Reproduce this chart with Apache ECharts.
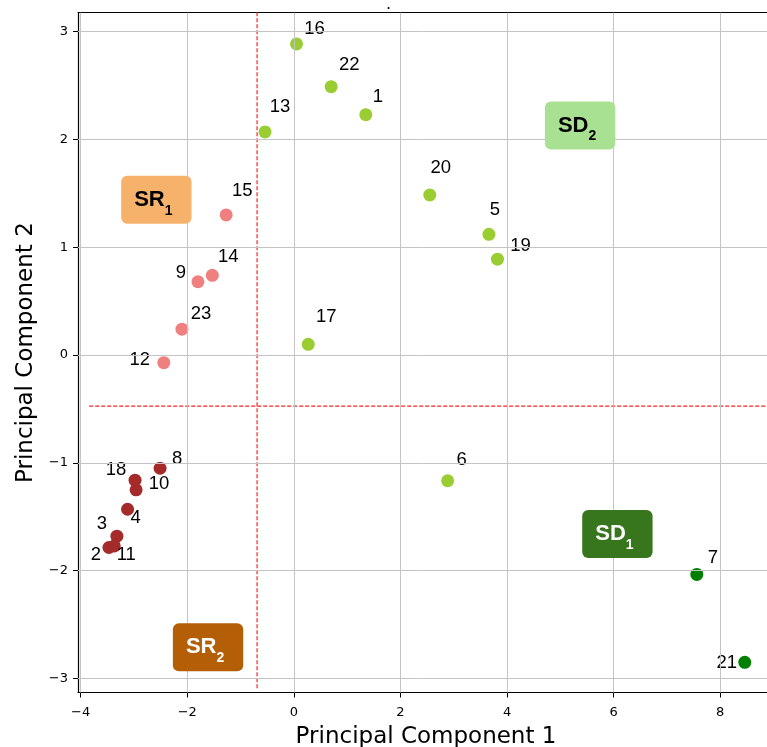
<!DOCTYPE html>
<html><head><meta charset="utf-8">
<script src="https://cdn.jsdelivr.net/npm/echarts@6/dist/echarts.min.js"></script>
<style>html,body{margin:0;padding:0;background:#fff}#c{width:767px;height:747px}</style>
</head><body><div id="c"></div>
<script>
// ---- data ----
const sampleIds = ['1','2','3','4','5','6','7','8','9','10','11','12','13','14','15','16','17','18','19','20','21','22','23'];
const pc1 = [1.35,-3.47,-3.32,-3.12,3.66,2.885,7.56,-2.51,-1.80,-2.96,-3.37,-2.44,-0.54,-1.53,-1.27,0.05,0.27,-2.98,3.82,2.55,8.46,0.70,-2.10];
const pc2 = [2.23,-1.785,-1.68,-1.43,1.12,-1.166,-2.035,-1.05,0.68,-1.25,-1.77,-0.07,2.07,0.74,1.30,2.886,0.10,-1.16,0.89,1.485,-2.85,2.49,0.24];
const sampleGroup = ['SD2','SR2','SR2','SR2','SD2','SD2','SD1','SR2','SR1','SR2','SR2','SR1','SD2','SR1','SR1','SD2','SD2','SR2','SD2','SD2','SD1','SD2','SR1'];
const groupOrder = ['SD2','SR1','SR2','SD1'];

const regionMain = ['SR','SD','SD','SR'];
const regionSub = ['1','2','1','2'];
const regionX = [-2.58, 5.37, 6.07, -1.61];
const regionY = [1.44, 2.13, -1.66, -2.71];

const cutX = -0.69, cutXSpan = [-3.09, 3.18];
const cutY = -0.473, cutYSpan = [-3.84, 9.0];

const xTicks = [-4,-2,0,2,4,6,8];
const yTicks = [-3,-2,-1,0,1,2,3];
const xRange = [-4.05, 8.877];
const yRange = [-3.13, 3.176];

// ---- styles (not data) ----
const groupColor = {SD2:'#9acd32', SR1:'#f08080', SR2:'#a52a2a', SD1:'#008000'};
const regionStyle = [
  {bg:'#f6b26b', fg:'#000'},
  {bg:'#a9e192', fg:'#000'},
  {bg:'#38761d', fg:'#fff'},
  {bg:'#b45f06', fg:'#fff'}
];
const labelOffsets = {
  '1':[12,-18],'2':[-13,7],'3':[-15,-12],'4':[8,9],'5':[6,-24],'6':[14,-21],'7':[16,-17],
  '8':[17,-9],'9':[-17,-9],'10':[23,-6],'11':[12,9],'12':[-24,-3],'13':[15,-25],'14':[16,-18],
  '15':[16,-24],'16':[18,-15],'17':[18,-27],'18':[-19,-10],'19':[23,-13],'20':[11,-27],
  '21':[-18,1],'22':[18,-22],'23':[19,-15]
};

const minus = v => String(v).replace('-', '\u2212');
const tickFont = {fontFamily:'DejaVu Sans', fontSize:13, color:'#000'};

const series = [];
// grid lines
series.push({
  type:'line', data:[], silent:true,
  markLine:{silent:true, symbol:'none', animation:false,
    label:{show:false},
    lineStyle:{color:'#c4c4c4', width:1, type:'solid'},
    data: xTicks.map(v=>({xAxis:v})).concat(yTicks.map(v=>({yAxis:v})))
  }
});
// cut lines
series.push({type:'line', data:[[cutX,cutXSpan[0]],[cutX,cutXSpan[1]]], symbol:'none', silent:true,
  lineStyle:{color:'#ff2020', width:1.2, type:[4,2]}, z:3});
series.push({type:'line', data:[[cutYSpan[0],cutY],[cutYSpan[1],cutY]], symbol:'none', silent:true,
  lineStyle:{color:'#ff2020', width:1.2, type:[4,2]}, z:3});

groupOrder.forEach(g=>{
  const d = [];
  sampleIds.forEach((id,i)=>{
    if (sampleGroup[i]!==g) return;
    d.push({value:[pc1[i], pc2[i]], name:id, label:{offset: labelOffsets[id]}});
  });
  series.push({
    type:'scatter', name:g, data:d, symbolSize:13, z:4,
    itemStyle:{color:groupColor[g], opacity:1},
    label:{show:true, position:'inside', formatter:p=>p.name,
      fontFamily:'Liberation Sans, Arial', fontSize:18.5, color:'#000'}
  });
});

// region tags
series.push({
  type:'scatter', symbol:'rect', symbolSize:1, z:5, silent:true,
  itemStyle:{color:'rgba(0,0,0,0)'},
  data: regionMain.map((m,i)=>({
    value:[regionX[i], regionY[i]], name:m, sub:regionSub[i],
    label:{
      backgroundColor: regionStyle[i].bg, color: regionStyle[i].fg,
      rich:{
        a:{fontFamily:'Liberation Sans', fontWeight:'bold', fontSize:22, lineHeight:36, verticalAlign:'middle', color:regionStyle[i].fg},
        s:{fontFamily:'Liberation Sans', fontWeight:'bold', fontSize:14, lineHeight:9, verticalAlign:'bottom', color:regionStyle[i].fg}
      }
    }
  })),
  label:{show:true, position:'inside', padding:[6,19,6,13], borderRadius:6, opacity:1,
    formatter: p => '{a|' + p.name + '}{s|' + p.data.sub + '}'}
});

const chart = echarts.init(document.getElementById('c'), null, {renderer:'canvas'});
chart.setOption({
  animation:false,
  backgroundColor:'#fff',
  title:{text:'.', left:381, top:-8, textStyle:{fontSize:16, fontFamily:'DejaVu Sans', color:'#000', fontWeight:'normal'}},
  grid:{left:78, right:0, top:12.7, bottom:54.5, containLabel:false, outerBoundsMode:'none'},
  xAxis:[{
    type:'value', min:xRange[0], max:xRange[1],
    name:'Principal Component 1', nameLocation:'middle', nameGap:33,
    nameTextStyle:{fontFamily:'DejaVu Sans', fontSize:23, color:'#000', padding:[0,0,0,7]},
    axisLine:{show:true, onZero:false, lineStyle:{color:'#000', width:1.2}},
    axisTick:{show:true, length:5, customValues:xTicks, lineStyle:{color:'#000'}},
    axisLabel:{customValues:xTicks, margin:14, formatter:minus, ...tickFont},
    splitLine:{show:false}
  },{
    type:'value', position:'top', min:xRange[0], max:xRange[1],
    axisLine:{show:true, onZero:false, lineStyle:{color:'#000', width:1.2}},
    axisTick:{show:false}, axisLabel:{show:false}, splitLine:{show:false}
  }],
  yAxis:{
    type:'value', min:yRange[0], max:yRange[1],
    name:'Principal Component 2', nameLocation:'middle', nameGap:38,
    nameTextStyle:{fontFamily:'DejaVu Sans', fontSize:23, color:'#000'},
    axisLine:{show:true, onZero:false, lineStyle:{color:'#000', width:1.2}},
    axisTick:{show:true, length:5, customValues:yTicks, lineStyle:{color:'#000'}},
    axisLabel:{customValues:yTicks, margin:10, formatter:minus, ...tickFont},
    splitLine:{show:false}
  },
  series: series
});
</script>
</body></html>
